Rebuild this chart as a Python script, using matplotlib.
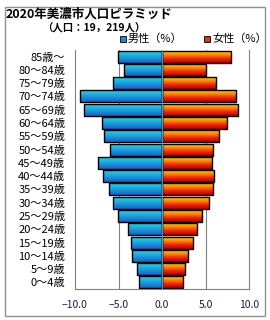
import numpy as np
import matplotlib.pyplot as plt
from matplotlib.patches import Rectangle
from matplotlib.colors import LinearSegmentedColormap

plt.rcParams['font.family'] = ['Noto Sans CJK JP', 'DejaVu Sans']

# --- data ---
ages = ['0～4歳', '5～9歳', '10～14歳', '15～19歳', '20～24歳', '25～29歳',
        '30～34歳', '35～39歳', '40～44歳', '45～49歳', '50～54歳', '55～59歳',
        '60～64歳', '65～69歳', '70～74歳', '75～79歳', '80～84歳', '85歳～']
male = [2.6, 2.9, 3.5, 3.6, 3.9, 5.1, 5.6, 6.1, 6.8, 7.4, 6.0, 6.7,
        6.9, 9.0, 9.4, 5.6, 4.4, 5.1]
female = [2.4, 2.6, 2.95, 3.55, 4.0, 4.6, 5.45, 5.9, 6.0, 5.8, 5.9, 6.5,
          7.5, 8.75, 8.5, 6.25, 5.1, 7.9]
xticks = [-10, -5, 0, 5, 10]

W, H = 270, 320
fig = plt.figure(figsize=(W / 100, H / 100), dpi=100)
ax = fig.add_axes([75 / W, 1 - 289 / H, 174 / W, 239 / H])

male_cmap = LinearSegmentedColormap.from_list('m', ['#1a5fc8', '#1aa0dc', '#28d4e4'])
female_cmap = LinearSegmentedColormap.from_list('f', ['#b00000', '#ee2000', '#ff8000', '#ffd400'])
grad = np.linspace(0, 1, 64).reshape(-1, 1)

y = np.arange(len(ages))
h = 0.9
mbars = ax.barh(y, -np.array(male), height=h, facecolor='none', edgecolor='black', lw=1.0, zorder=3)
fbars = ax.barh(y, female, height=h, facecolor='none', edgecolor='black', lw=1.0, zorder=3)

# vertical gradient fill inside each bar
for bars, cmap in ((mbars, male_cmap), (fbars, female_cmap)):
    for b in bars:
        x0, y0 = b.get_x(), b.get_y()
        ax.imshow(grad, extent=[x0, x0 + b.get_width(), y0, y0 + b.get_height()],
                  origin='lower', aspect='auto', cmap=cmap, zorder=2)

ax.axvline(0, color='#5a8fb0', lw=0.9, zorder=4)
for g in (-5, 5):
    ax.axvline(g, color='#808080', lw=0.8, zorder=1)

ax.set_xlim(-10, 10)
ax.set_ylim(-0.5, 17.5)
ax.set_xticks(xticks)
ax.set_xticklabels([f'{v:.1f}'.replace('-', '−') for v in xticks], fontsize=7.5, color='#1a1a50')
ax.set_yticks(y)
ax.set_yticklabels(ages, fontsize=8)
ax.tick_params(length=0)
ax.tick_params(axis='x', pad=8)
ax.tick_params(axis='y', pad=7)
for s in ('left', 'right', 'bottom'):
    ax.spines[s].set_color('#808080')
ax.spines['top'].set_visible(False)

# outer frame
fig.patches.append(Rectangle((5 / W, 1 - 316 / H), 260 / W, 309 / H, transform=fig.transFigure,
                             facecolor='none', edgecolor='#909090', lw=1.0))

fig.text(6 / W, 1 - 14 / H, '2020年美濃市人口ピラミッド', fontsize=9, fontweight='bold', va='center')
fig.text(42 / W, 1 - 28 / H, '（人口：19，219人）', fontsize=7.5, fontweight='bold', va='center')

# legend
for lx, col, tx, label in ((120, '#1a90d8', 128, '男性（%）'), (204, '#e83000', 212, '女性（%）')):
    fig.patches.append(Rectangle((lx / W, 1 - 42 / H), 6 / W, 6 / H, transform=fig.transFigure,
                                 facecolor=col, edgecolor='black', lw=0.6))
    fig.text(tx / W, 1 - 39 / H, label, fontsize=8, va='center')

fig.savefig('out.png', dpi=100)
